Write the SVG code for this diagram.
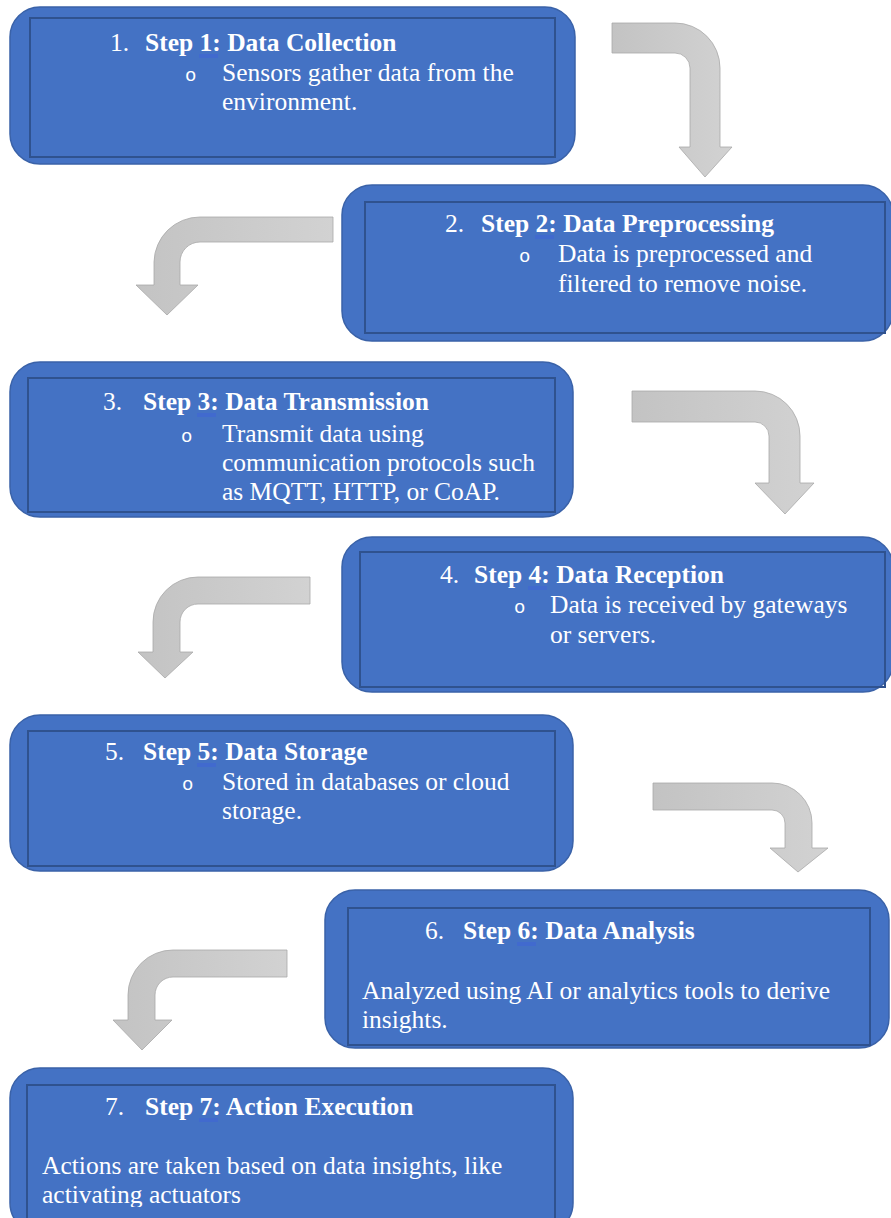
<svg xmlns="http://www.w3.org/2000/svg" width="891" height="1218" viewBox="0 0 891 1218">
<style>
.outer{fill:#4472C4;stroke:#3A62A8;stroke-width:1.5}
.inner{fill:none;stroke:#2F528F;stroke-width:2}
.t{font-family:"Liberation Serif","Times New Roman",serif;font-size:25.5px;fill:#FFFFFF}
.b{font-weight:bold}
.bul{font-family:"Liberation Mono","Courier New",monospace;font-size:19px;fill:#FFFFFF}
.ul{stroke:#3F63D8;stroke-width:1}
.arrow{fill:url(#g);stroke:#A8A8A8;stroke-width:0.8}
</style>
<defs>
<linearGradient id="g" x1="0" y1="0" x2="1" y2="0">
<stop offset="0" stop-color="#C3C3C3"/>
<stop offset="1" stop-color="#D2D2D2"/>
</linearGradient>
<clipPath id="c7"><rect x="0" y="1060" width="600" height="147"/></clipPath>
</defs>
<rect width="891" height="1218" fill="#FFFFFF"/>
<g id="connectors">
<path class="arrow" d="M612,23 H675 A45,45 0 0 1 720,68 V147 H732 L705,177 L679,147 H690 V68 A15,15 0 0 0 675,53 H612 Z"/>
<path class="arrow" d="M333,217 V242 H200 A20,20 0 0 0 180,262 V285 H198 L167,315 L136,285 H154 V262 A46,46 0 0 1 200,217 Z"/>
<path class="arrow" d="M632,391 H755 A45,45 0 0 1 800,436 V483 H814 L785,514 L755,483 H769 V436 A14,14 0 0 0 755,422 H632 Z"/>
<path class="arrow" d="M310,577 V604 H198 A18,18 0 0 0 180,622 V652 H193 L165,678 L138,652 H153 V622 A45,45 0 0 1 198,577 Z"/>
<path class="arrow" d="M653,783 H772 A40,40 0 0 1 812,823 V848 H828 L798,872 L770,848 H785 V823 A13,13 0 0 0 772,810 H653 Z"/>
<path class="arrow" d="M287,950 V977 H173 A18,18 0 0 0 155,995 V1020 H172 L142,1050 L113,1020 H128 V995 A45,45 0 0 1 173,950 Z"/>
</g>
<g id="step1">
<rect class="outer" x="10" y="7" width="565" height="157" rx="30"/>
<rect class="inner" x="30" y="18" width="525" height="139"/>
<text class="t" x="110" y="51">1.</text>
<text class="t b" x="145" y="51">Step 1: Data Collection</text>
<line class="ul" x1="199" y1="55" x2="218" y2="55"/><line class="ul" x1="199" y1="57" x2="218" y2="57"/>
<text class="bul" x="185" y="81">o</text>
<text class="t" x="222" y="81">Sensors gather data from the</text>
<text class="t" x="222" y="110">environment.</text>
</g>
<g id="step2">
<rect class="outer" x="342" y="185" width="551" height="156" rx="30"/>
<rect class="inner" x="365" y="202" width="520" height="131"/>
<text class="t" x="445" y="232">2.</text>
<text class="t b" x="481" y="232">Step 2: Data Preprocessing</text>
<line class="ul" x1="535" y1="236" x2="554" y2="236"/><line class="ul" x1="535" y1="238" x2="554" y2="238"/>
<text class="bul" x="519" y="262">o</text>
<text class="t" x="558" y="262">Data is preprocessed and</text>
<text class="t" x="558" y="292">filtered to remove noise.</text>
</g>
<g id="step3">
<rect class="outer" x="10" y="362" width="563" height="155" rx="30"/>
<rect class="inner" x="28" y="378" width="527" height="134"/>
<text class="t" x="103" y="410">3.</text>
<text class="t b" x="143" y="410">Step 3: Data Transmission</text>
<line class="ul" x1="197" y1="414" x2="216" y2="414"/><line class="ul" x1="197" y1="416" x2="216" y2="416"/>
<text class="bul" x="181" y="442">o</text>
<text class="t" x="222" y="442">Transmit data using</text>
<text class="t" x="222" y="471">communication protocols such</text>
<text class="t" x="222" y="500">as MQTT, HTTP, or CoAP.</text>
</g>
<g id="step4">
<rect class="outer" x="342" y="537" width="551" height="155" rx="30"/>
<rect class="inner" x="360" y="552" width="525" height="135"/>
<text class="t" x="440" y="583">4.</text>
<text class="t b" x="474" y="583">Step 4: Data Reception</text>
<line class="ul" x1="528" y1="587" x2="547" y2="587"/><line class="ul" x1="528" y1="589" x2="547" y2="589"/>
<text class="bul" x="514" y="613">o</text>
<text class="t" x="550" y="613">Data is received by gateways</text>
<text class="t" x="550" y="643">or servers.</text>
</g>
<g id="step5">
<rect class="outer" x="10" y="715" width="563" height="156" rx="30"/>
<rect class="inner" x="28" y="731" width="527" height="135"/>
<text class="t" x="105" y="760">5.</text>
<text class="t b" x="143" y="760">Step 5: Data Storage</text>
<line class="ul" x1="197" y1="764" x2="216" y2="764"/><line class="ul" x1="197" y1="766" x2="216" y2="766"/>
<text class="bul" x="182" y="790">o</text>
<text class="t" x="222" y="790">Stored in databases or cloud</text>
<text class="t" x="222" y="819">storage.</text>
</g>
<g id="step6">
<rect class="outer" x="325" y="890" width="564" height="158" rx="30"/>
<rect class="inner" x="348" y="908" width="522" height="137"/>
<text class="t" x="425" y="939">6.</text>
<text class="t b" x="463" y="939">Step 6: Data Analysis</text>
<line class="ul" x1="517" y1="943" x2="536" y2="943"/><line class="ul" x1="517" y1="945" x2="536" y2="945"/>
<text class="t" x="362" y="999">Analyzed using AI or analytics tools to derive</text>
<text class="t" x="362" y="1028">insights.</text>
</g>
<g id="step7">
<rect class="outer" x="10" y="1068" width="563" height="165" rx="30"/>
<rect class="inner" x="27" y="1085" width="528" height="140"/>
<text class="t" x="105" y="1115">7.</text>
<text class="t b" x="145" y="1115">Step 7: Action Execution</text>
<line class="ul" x1="199" y1="1119" x2="218" y2="1119"/><line class="ul" x1="199" y1="1121" x2="218" y2="1121"/>
<text class="t" x="42" y="1174">Actions are taken based on data insights, like</text>
<text class="t" x="42" y="1203" clip-path="url(#c7)">activating actuators</text>
</g>
</svg>
